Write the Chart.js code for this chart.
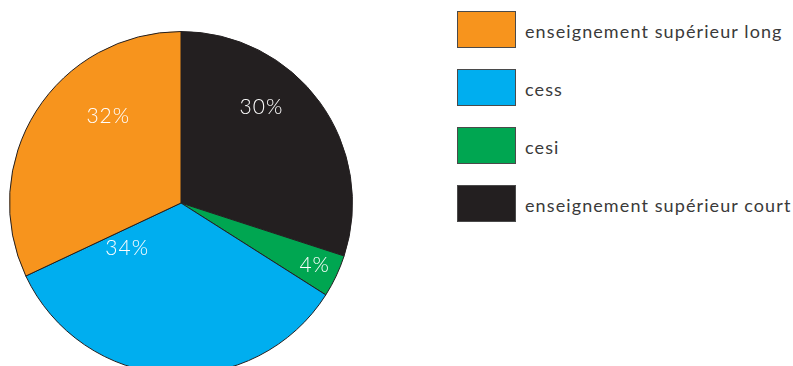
<!DOCTYPE html>
<html>
<head>
<meta charset="utf-8">
<script src="https://cdn.jsdelivr.net/npm/chart.js@4/dist/chart.umd.min.js"></script>
<style>
  html, body { margin: 0; padding: 0; background: #fff; overflow: hidden; }
  body { width: 793px; height: 366px; position: relative; font-family: "Lato", "DejaVu Sans", sans-serif; }
  #pieBox { position: absolute; left: 9px; top: 31px; width: 344px; height: 344px; }
  #legend { position: absolute; left: 457px; top: 10px; }
  .item { display: flex; align-items: center; height: 38px; margin-bottom: 20px; }
  .swatch { width: 57px; height: 35px; border: 1.5px solid #4a4a4a; }
  .txt { margin-left: 9px; font-size: 18px; color: #3a3a3a; letter-spacing: 1.1px; position: relative; top: 2px; }
</style>
</head>
<body>
<div id="pieBox"><canvas id="pie"></canvas></div>
<div id="legend"></div>
<script>
// legend order
var categories = ['enseignement supérieur long', 'cess', 'cesi', 'enseignement supérieur court'];
var shares = [32, 34, 4, 30];
var colours = ['#F7941D', '#00AEEF', '#00A651', '#231F20'];

// where each percentage label sits: degrees clockwise from top, fraction of radius
var labelPlace = [[320, 0.66], [230, 0.41], [115, 0.86], [40, 0.73]];

// legend
var legend = document.getElementById('legend');
categories.forEach(function (name, i) {
    var row = document.createElement('div');
    row.className = 'item';
    var sw = document.createElement('div');
    sw.className = 'swatch';
    sw.style.background = colours[i];
    var t = document.createElement('div');
    t.className = 'txt';
    t.textContent = name;
    row.appendChild(sw);
    row.appendChild(t);
    legend.appendChild(row);
});

// the pie runs the other way round from the legend, starting at the top
var order = [3, 2, 1, 0];
var pieLabels = order.map(function (i) { return categories[i]; });
var pieData = order.map(function (i) { return shares[i]; });
var pieColours = order.map(function (i) { return colours[i]; });
var piePlace = order.map(function (i) { return labelPlace[i]; });

var pctLabels = {
    id: 'pctLabels',
    afterDatasetsDraw: function (chart) {
        var ctx = chart.ctx;
        var arcs = chart.getDatasetMeta(0).data;
        ctx.save();
        ctx.fillStyle = '#ffffff';
        ctx.font = '300 21px "Lato", sans-serif';
        ctx.letterSpacing = '1px';
        ctx.textAlign = 'center';
        ctx.textBaseline = 'middle';
        arcs.forEach(function (arc, j) {
            var p = arc.getProps(['x', 'y', 'outerRadius'], true);
            var a = piePlace[j][0] * Math.PI / 180;
            var r = p.outerRadius * piePlace[j][1];
            ctx.fillText(pieData[j] + '%', p.x + r * Math.sin(a), p.y - r * Math.cos(a));
        });
        ctx.restore();
    }
};

new Chart(document.getElementById('pie'), {
    type: 'pie',
    data: {
        labels: pieLabels,
        datasets: [{
            data: pieData,
            backgroundColor: pieColours,
            borderColor: '#231F20',
            borderWidth: 1
        }]
    },
    options: {
        responsive: true,
        maintainAspectRatio: false,
        animation: false,
        layout: { padding: 0 },
        plugins: {
            legend: { display: false },
            tooltip: { enabled: false }
        }
    },
    plugins: [pctLabels]
});
</script>
</body>
</html>
